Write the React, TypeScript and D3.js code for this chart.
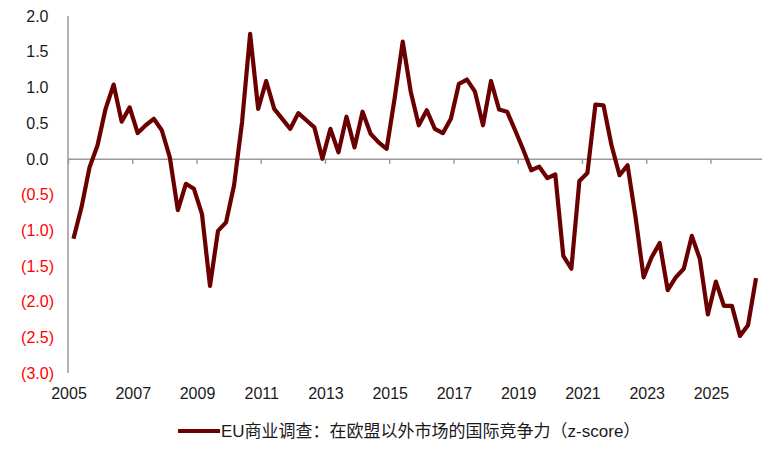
import React, { useEffect, useRef } from 'react';
import * as d3 from 'd3';

// quarterly readings, first quarter of 2005 onwards
const startYear = 2005.17;
const values: number[] = [
  -1.12, -0.68, -0.12, 0.19, 0.70, 1.04, 0.52, 0.72, 0.36, 0.47,
  0.56, 0.40, 0.02, -0.72, -0.35, -0.42, -0.77, -1.78, -1.01, -0.89,
  -0.37, 0.52, 1.75, 0.70, 1.09, 0.70, 0.56, 0.42, 0.64, 0.54,
  0.44, 0.00, 0.42, 0.09, 0.59, 0.16, 0.66, 0.35, 0.23, 0.14,
  0.85, 1.64, 0.94, 0.47, 0.68, 0.42, 0.36, 0.56, 1.05, 1.11,
  0.94, 0.47, 1.09, 0.69, 0.66, 0.40, 0.13, -0.16, -0.11, -0.27,
  -0.22, -1.36, -1.54, -0.31, -0.20, 0.76, 0.75, 0.19, -0.23, -0.09,
  -0.82, -1.66, -1.38, -1.18, -1.84, -1.66, -1.54, -1.08, -1.40, -2.18,
  -1.72, -2.06, -2.06, -2.48, -2.33, -1.67,
];
const yTicks = [2, 1.5, 1, 0.5, 0, -0.5, -1, -1.5, -2, -2.5, -3];
const xTicks = [2005, 2007, 2009, 2011, 2013, 2015, 2017, 2019, 2021, 2023, 2025];
const legendLabel = 'EU商业调查：在欧盟以外市场的国际竞争力（z-score）';

const LINE_COLOR = '#6b0000';
const AXIS_COLOR = '#999999';
const FONT = '"Liberation Sans", Arial, sans-serif';

const App: React.FC = () => {
  const svgRef = useRef<SVGSVGElement>(null);

  useEffect(() => {
    if (!svgRef.current) return;
    const svg = d3.select(svgRef.current);
    svg.selectAll('*').remove();

    const x = d3.scaleLinear().domain([2005, 2026.59]).range([68, 761.5]);
    const y = d3.scaleLinear().domain([-3, 2]).range([373, 16]);

    const points = values.map((v, i) => ({ t: startYear + i * 0.25, v }));

    // y axis line
    svg.append('line')
      .attr('x1', x(2005)).attr('x2', x(2005))
      .attr('y1', y(2)).attr('y2', y(-3))
      .attr('stroke', AXIS_COLOR)
      .attr('stroke-width', 1.5);

    // y labels (accounting style, negatives red in brackets)
    svg.append('g')
      .selectAll('text')
      .data(yTicks)
      .enter()
      .append('text')
      .attr('x', d => (d < 0 ? 54 : 48.5))
      .attr('y', d => y(d))
      .attr('dy', '0.36em')
      .attr('text-anchor', 'end')
      .style('font-family', FONT)
      .style('font-size', '16px')
      .attr('fill', d => (d < 0 ? '#ff0000' : '#1a1a1a'))
      .text(d => (d < 0 ? `(${d3.format('.1f')(-d)})` : d3.format('.1f')(d)));

    // x axis sits on zero
    const xAxis = d3.axisBottom(x)
      .tickValues(xTicks)
      .tickSize(5)
      .tickSizeOuter(0)
      .tickFormat(() => '');

    const gx = svg.append('g')
      .attr('transform', `translate(0,${y(0)})`)
      .call(xAxis);
    gx.select('.domain').attr('stroke', AXIS_COLOR).attr('stroke-width', 1.5);
    gx.selectAll('.tick line').attr('stroke', AXIS_COLOR).attr('stroke-width', 1.5);

    svg.append('g')
      .selectAll('text')
      .data(xTicks)
      .enter()
      .append('text')
      .attr('x', d => x(d) + 1)
      .attr('y', 399)
      .attr('text-anchor', 'middle')
      .style('font-family', FONT)
      .style('font-size', '16px')
      .attr('fill', '#1a1a1a')
      .text(d => String(d));

    const line = d3.line<{ t: number; v: number }>()
      .x(d => x(d.t))
      .y(d => y(d.v));

    svg.append('path')
      .datum(points)
      .attr('fill', 'none')
      .attr('stroke', LINE_COLOR)
      .attr('stroke-width', 4.2)
      .attr('stroke-linejoin', 'round')
      .attr('d', line);

    // legend
    const legend = svg.append('g').attr('transform', 'translate(178,431)');
    legend.append('line')
      .attr('x1', 0).attr('x2', 42)
      .attr('y1', 0).attr('y2', 0)
      .attr('stroke', LINE_COLOR)
      .attr('stroke-width', 4.2);
    legend.append('text')
      .attr('x', 43)
      .attr('y', 0)
      .attr('dy', '0.36em')
      .style('font-family', '"Liberation Sans", "Noto Sans CJK SC", sans-serif')
      .style('font-size', '17px')
      .attr('fill', '#1a1a1a')
      .text(legendLabel);
  }, []);

  return (
    <svg
      ref={svgRef}
      width={771}
      height={449}
      style={{ position: 'absolute', left: 0, top: 0, background: '#fff' }}
    />
  );
};

export default App;
